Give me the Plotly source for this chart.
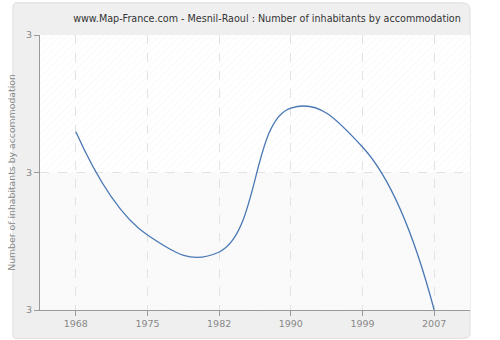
import plotly.graph_objects as go

years = ["1968", "1975", "1982", "1990", "1999", "2007"]
values = [3.0297, 2.9545, 2.9422, 3.0469, 3.0185, 2.90]
y_ticks = [2.9, 3.0, 3.1]

x_idx = list(range(len(years)))

fig = go.Figure()

clear = "rgba(0,0,0,0)"
# background hatching on hidden base axes (transparent so gridlines show)
fig.add_trace(go.Bar(x=[0.5], y=[0.5], base=[0.5], width=[1],
                     marker=dict(color=clear, line=dict(width=0),
                                 pattern=dict(shape="/", fgcolor="#e9e9e9", bgcolor=clear,
                                              fillmode="overlay", size=5, solidity=0.15)),
                     xaxis="x", yaxis="y", hoverinfo="skip", showlegend=False))
fig.add_trace(go.Bar(x=[0.5], y=[0.5], base=[0], width=[1],
                     marker=dict(color=clear, line=dict(width=0),
                                 pattern=dict(shape="/", fgcolor="#f3f3f3", bgcolor=clear,
                                              fillmode="overlay", size=5, solidity=0.15)),
                     xaxis="x", yaxis="y", hoverinfo="skip", showlegend=False))

fig.add_trace(go.Scatter(x=x_idx, y=values, mode="lines",
                         line=dict(color="#4a78b4", width=1.3, shape="spline", smoothing=1.3),
                         xaxis="x2", yaxis="y2", showlegend=False))

fig.update_layout(
    width=500, height=340,
    margin=dict(l=40, r=30, t=35, b=30),
    paper_bgcolor="white",
    plot_bgcolor="white",
    barmode="overlay",
    bargap=0,
    title=dict(text="www.Map-France.com - Mesnil-Raoul : Number of inhabitants by accommodation",
               x=0.534, xanchor="center", y=0.945, yanchor="middle",
               font=dict(family="DejaVu Sans", size=9.6, color="#333333")),
    xaxis=dict(range=[0, 1], visible=False, fixedrange=True),
    yaxis=dict(range=[0, 1], visible=False, fixedrange=True),
    xaxis2=dict(overlaying="x", range=[-0.5, 5.5], tickvals=x_idx, ticktext=years,
                showgrid=True, gridcolor="#e2e2e2", griddash="dash", gridwidth=1,
                showline=True, linecolor="#999999", linewidth=1,
                ticks="outside", ticklen=5, tickcolor="#999999",
                tickfont=dict(family="DejaVu Sans", size=9.5, color="#888888"),
                zeroline=False, anchor="y2", automargin=False),
    yaxis2=dict(overlaying="y", range=[2.9, 3.1], tickvals=y_ticks, tickformat=".0f",
                showgrid=True, gridcolor="#e2e2e2", griddash="dash", gridwidth=1,
                showline=True, linecolor="#999999", linewidth=1,
                ticks="outside", ticklen=5, tickcolor="#999999",
                tickfont=dict(family="DejaVu Sans", size=9.5, color="#888888"),
                title=dict(text="Number of inhabitants by accommodation", standoff=8,
                           font=dict(family="DejaVu Sans", size=9.3, color="#888888")),
                zeroline=False, anchor="x2", automargin=False),
    shapes=[dict(type="path", xref="paper", yref="paper", layer="below",
                 path="M -0.057,1.117 L 0.982,1.117 Q 1.0,1.117 1.0,1.09 "
                      "L 1.0,-0.087 Q 1.0,-0.103 0.982,-0.103 L -0.057,-0.103 "
                      "Q -0.063,-0.103 -0.063,-0.087 L -0.063,1.09 Q -0.063,1.117 -0.057,1.117 Z",
                 fillcolor="#efefef", line=dict(color="#dddddd", width=1)),
            dict(type="rect", xref="paper", yref="paper", layer="below",
                 x0=0, x1=1, y0=0, y1=1, fillcolor="white", line=dict(width=0)),
            dict(type="rect", xref="paper", yref="paper", layer="below",
                 x0=0, x1=1, y0=0, y1=0.5, fillcolor="#fafafa", line=dict(width=0))],
)

fig.write_html("out.html")
